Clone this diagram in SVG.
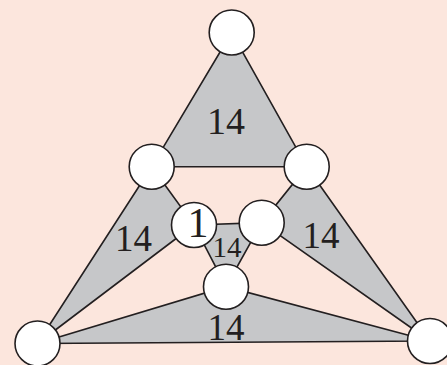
<svg xmlns="http://www.w3.org/2000/svg" width="447" height="365" viewBox="0 0 447 365">
<style>
.tri{fill:#c6c7c9;stroke:#231f20;stroke-width:1.6;stroke-linejoin:miter}
.n{fill:#fff;stroke:#231f20;stroke-width:1.6}
.t{font-family:"Liberation Serif","Times New Roman",serif;fill:#231f20;text-anchor:middle}
</style>
<rect width="447" height="365" fill="#fce6dd"/>
<g id="connectors">
<polygon class="tri" points="231.7,32.5 151.7,166.7 306.7,166.7"/>
<polygon class="tri" points="151.7,166.7 37.5,343.5 194,225"/>
<polygon class="tri" points="306.7,166.7 430,341 261.7,222.7"/>
<polygon class="tri" points="194,225 261.7,222.7 226,286.7"/>
<polygon class="tri" points="37.5,343.5 226,286.7 430,341"/>
</g>
<g id="labels">
<text class="t" x="226" y="134" font-size="38">14</text>
<text class="t" x="133.5" y="250.5" font-size="37">14</text>
<text class="t" x="321" y="247.5" font-size="37">14</text>
<text class="t" x="226" y="339.5" font-size="37">14</text>
</g>
<g id="node-top"><circle class="n" cx="231.7" cy="32.5" r="22.5"/></g>
<g id="node-ul"><circle class="n" cx="151.7" cy="166.7" r="22.5"/></g>
<g id="node-ur"><circle class="n" cx="306.7" cy="166.7" r="22.5"/></g>
<g id="node-bl"><circle class="n" cx="37.5" cy="343.5" r="22.5"/></g>
<g id="node-br"><circle class="n" cx="430" cy="341" r="22.5"/></g>
<g id="node-il"><circle class="n" cx="194" cy="225" r="22.5"/><text class="t" x="198" y="236.5" font-size="42">1</text></g>
<g id="node-ir"><circle class="n" cx="261.7" cy="222.7" r="22.5"/></g>
<g id="node-ib"><circle class="n" cx="226" cy="286.7" r="22.5"/></g>
<g id="label-center"><text class="t" x="227" y="257" font-size="29">14</text></g>
</svg>
